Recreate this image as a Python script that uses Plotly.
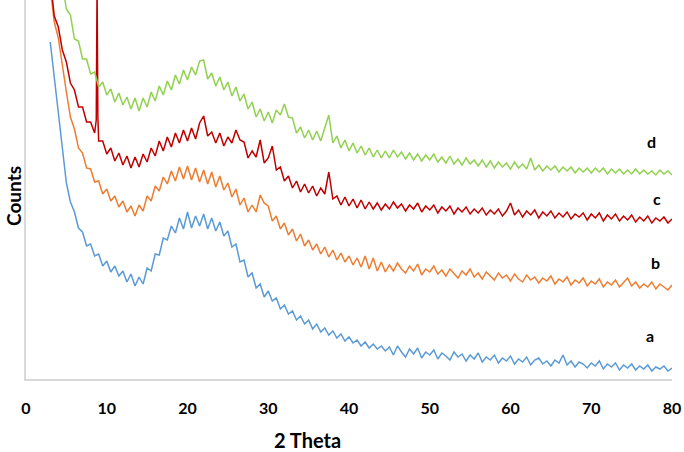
import plotly.graph_objects as go

# shared 2-theta sampling grid (degrees), 3.0 .. 80.0 in 0.5 steps
two_theta = [3.0 + 0.5 * i for i in range(155)]
# red pattern has an extra narrow reflection near 8.8 deg
two_theta_c = sorted(two_theta + [8.7, 8.8, 8.9])

counts_a = [337,301,267,229,196,177,167,151,147,133,135,123,125,113,118,107,113,103,108,97,
            105,93,102,95,111,108,125,124,141,139,153,146,161,150,167,151,163,153,165,150,
            161,148,157,143,148,132,135,117,119,102,106,91,95,82,88,78,81,70,74,65,
            68,59,63,55,59,50,55,47,51,44,48,41,45,38,42,36,39,33,37,31,
            35,30,33,28,32,
            24,33,27,22,30,25,31,21,27,24,
            29,20,26,23,19,27,22,25,18,24,
            20,26,17,22,19,24,16,21,18,23,
            15,20,17,22,14,19,21,15,18,13,
            19,16,24,14,18,12,17,15,11,16,
            13,18,10,15,12,16,9,14,11,15,
            9,13,10,14,8,12,10,13,8,11]

counts_b = [392,357,341,312,287,262,250,231,226,211,210,197,198,185,190,178,183,172,178,167,
            173,163,174,168,183,178,193,188,202,195,208,198,212,200,213,199,211,197,209,195,
            207,192,203,189,196,182,190,174,181,167,174,167,184,176,173,158,163,150,156,144,
            150,138,145,133,139,129,135,125,132,122,129,119,126,117,123,114,121,112,123,110,
            121,108,117,107,114,
            108,116,110,106,113,108,115,104,110,107,
            113,105,109,103,110,106,101,108,104,110,
            102,106,100,107,103,99,106,101,104,98,
            105,100,97,104,99,102,96,101,98,103,
            95,100,97,102,94,99,96,101,93,98,
            95,100,92,97,94,99,92,96,101,93,
            97,91,95,92,97,90,95,92,89,94]

counts_c = [400,363,352,329,317,296,289,272,272,257,257,246,259,395,262,238,238,225,231,218,226,214,223,
            211,222,212,225,217,231,223,238,228,242,232,246,236,249,238,251,240,256,263,243,
            247,236,246,233,242,236,249,239,237,221,228,222,239,216,221,233,209,212,198,203,
            191,198,187,195,186,193,183,191,185,207,180,183,174,182,173,180,171,179,170,177,
            170,176,169,175,170,
            177,171,175,168,174,170,176,167,173,169,
            174,166,172,168,173,165,171,167,172,165,
            170,166,171,164,169,165,170,163,168,176,
            164,169,162,168,164,169,161,167,163,168,
            161,166,162,167,160,165,162,166,159,165,
            161,166,158,164,160,165,158,163,159,164,
            157,162,158,163,156,161,158,162,156,160]

counts_d = [None,None,None,395,370,364,340,338,320,320,305,307,292,297,284,290,277,286,274,282,
            270,281,268,281,272,287,278,293,284,298,289,304,295,309,299,312,304,318,319,300,
            306,293,302,289,297,283,292,278,285,270,277,262,270,258,267,256,269,264,275,262,
            261,246,252,241,249,239,248,238,252,264,236,243,231,239,228,236,226,233,224,231,
            222,229,221,228,221,
            229,222,227,220,226,219,225,218,224,219,
            225,217,222,216,223,215,220,214,221,215,
            219,213,219,212,218,211,217,212,216,210,
            217,211,215,210,221,209,214,208,213,209,
            213,207,212,208,212,206,211,207,211,206,
            211,207,211,205,210,206,210,205,209,205,
            210,205,209,205,208,204,209,205,208,204]

series_labels = ["a", "b", "c", "d"]
label_x = [77.3, 78.0, 78.1, 77.5]
label_y = [44, 117, 181, 238]

colors = ["#5B9BD5", "#ED7D31", "#C00000", "#92D050"]

fig = go.Figure()
for x, y, c in [(two_theta, counts_a, colors[0]), (two_theta, counts_b, colors[1]),
                (two_theta_c, counts_c, colors[2]), (two_theta, counts_d, colors[3])]:
    fig.add_trace(go.Scatter(x=x, y=y, mode="lines", line=dict(color=c, width=1.5),
                             showlegend=False, hoverinfo="skip"))

for t, lx, ly in zip(series_labels, label_x, label_y):
    fig.add_annotation(x=lx, y=ly, text=t, showarrow=False,
                       font=dict(family="Lato", size=16, color="#000000", weight="bold"))

fig.add_annotation(xref="paper", yref="paper", x=0.435, y=-0.161, text="2 Theta", showarrow=False,
                   font=dict(family="Lato", size=20, color="#000000", weight="bold"),
                   xanchor="center", yanchor="middle")
fig.add_annotation(xref="paper", yref="paper", x=-0.0186, y=0.483, text="Counts", showarrow=False,
                   textangle=-90, font=dict(family="Lato", size=19, color="#000000", weight="bold"),
                   xanchor="center", yanchor="middle")

fig.update_layout(
    width=684, height=452,
    margin=dict(l=26, r=12, t=0, b=73),
    plot_bgcolor="white", paper_bgcolor="white",
    xaxis=dict(range=[0, 80], tickvals=[0,10,20,30,40,50,60,70,80], showgrid=False, zeroline=False,
               showline=True, linecolor="#d9d9d9", linewidth=1.5, ticks="",
               ticklabelstandoff=14,
               tickfont=dict(family="Lato", size=16, color="#000000", weight="bold")),
    yaxis=dict(range=[0, 379], showgrid=False, zeroline=False, showticklabels=False,
               showline=True, linecolor="#d9d9d9", linewidth=1.5, ticks=""),
)

fig.write_html("out.html", config={"displayModeBar": False},
               post_script="document.body.style.margin='0';")
